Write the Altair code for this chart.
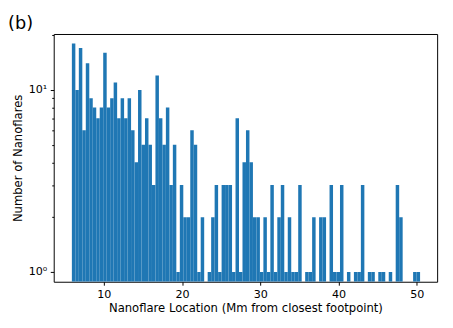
import altair as alt
import numpy as np
import pandas as pd

# Histogram counts (100 equal bins)
counts = [18, 10, 17, 6, 14, 9, 8, 7, 8, 16, 8, 9, 11, 7, 9, 7, 9, 6, 4, 10,
          5, 7, 5, 3, 12, 7, 5, 8, 3, 5, 1, 3, 2,
          2, 6, 5, 1, 2, 0, 1, 2, 3, 1, 3, 3, 3, 1, 7, 1, 4, 6, 4, 2, 2, 1,
          2, 1, 3, 1, 2, 3, 1, 2, 1, 1, 3,
          0, 1, 1, 2, 0, 2, 2, 0, 3, 1, 1, 3, 0, 1, 0, 1, 1, 3, 0, 1, 1, 0,
          1, 1, 0, 1, 0, 3, 2, 0, 0, 0, 1, 1]
bin_lo = 5.92
bin_hi = 50.42
x_ticks = [10, 20, 30, 40, 50]
y_major = [1, 10]
y_minor = [2, 3, 4, 5, 6, 7, 8, 9, 20]

edges = np.linspace(bin_lo, bin_hi, len(counts) + 1)
df = pd.DataFrame({"x0": edges[:-1], "x1": edges[1:], "n": counts})
df = df[df["n"] > 0]

W, H = 390, 252
FONT = "DejaVu Sans"

xscale = alt.Scale(domain=[3.6, 52.6], nice=False, zero=False)
yscale = alt.Scale(type="log", domain=[0.883, 20.3], nice=False)

bars = alt.Chart(df).mark_bar(
    color="#1f77b4", strokeWidth=0, clip=True
).encode(
    x=alt.X("x0:Q", scale=xscale,
            axis=alt.Axis(values=x_ticks, title="Nanoflare Location (Mm from closest footpoint)",
                          grid=False, tickSize=3.5, tickColor="#000", domain=False,
                          labelPadding=3.5, labelFontSize=11.3, labelFont=FONT, labelColor="#000",
                          titleFont=FONT, titleFontSize=11.8, titleFontWeight="normal",
                          titleColor="#000", titlePadding=3)),
    x2="x1:Q",
    y=alt.Y("n:Q", scale=yscale,
            axis=alt.Axis(values=y_major + y_minor, title="Number of Nanoflares",
                          grid=False, domain=False, tickColor="#000",
                          tickSize={"condition": {"test": "datum.value == 1 || datum.value == 10", "value": 3.5}, "value": 2},
                          labelExpr="datum.value == 1 ? '10⁰' : (datum.value == 10 ? '10¹' : '')",
                          labelPadding=3.5, labelFontSize=11.3, labelFont=FONT, labelColor="#000",
                          titleFont=FONT, titleFontSize=11.8, titleFontWeight="normal",
                          titleColor="#000", titlePadding=5)),
    y2=alt.value(H),
)

label = alt.Chart(pd.DataFrame({"t": ["(b)"]})).mark_text(
    font=FONT, fontSize=18, align="left", baseline="alphabetic", color="#000"
).encode(text="t:N", x=alt.value(-46.5), y=alt.value(-5.5))

chart = alt.layer(bars, label).properties(
    width=W, height=H,
    background="white",
    autosize=alt.AutoSizeParams(type="none"),
    padding={"left": 46.5, "top": 23.7, "right": 8, "bottom": 45},
).configure_view(stroke="#000", strokeWidth=1)

chart.save("out.html", embed_options={"renderer": "svg", "actions": False})
